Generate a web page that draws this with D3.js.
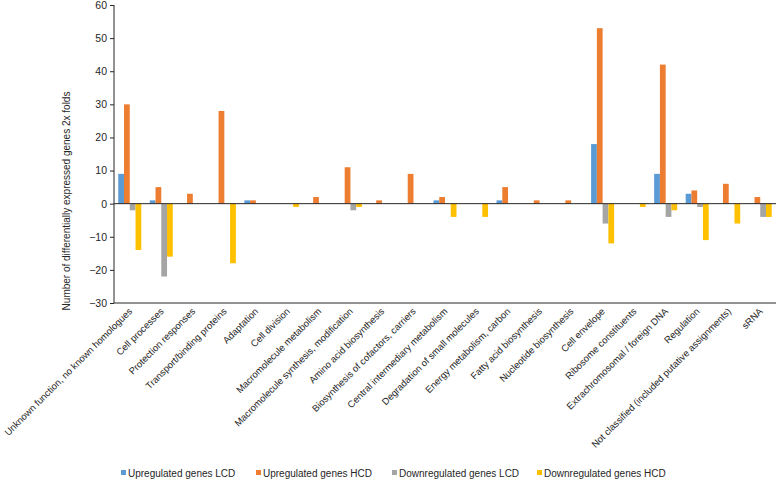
<!DOCTYPE html>
<html>
<head>
<meta charset="utf-8">
<script src="https://cdn.jsdelivr.net/npm/d3@7"></script>
<style>
  body { margin: 0; background: #fff; }
  text { font-family: "Liberation Sans", Arial, sans-serif; fill: #262626; }
</style>
</head>
<body>
<div id="chart"></div>
<script>
// chart data
var categories = [
  "Unknown function, no known homologues",
  "Cell processes",
  "Protection responses",
  "Transport/binding proteins",
  "Adaptation",
  "Cell division",
  "Macromolecule metabolism",
  "Macromolecule synthesis, modification",
  "Amino acid biosynthesis",
  "Biosynthesis of cofactors, carriers",
  "Central intermediary metabolism",
  "Degradation of small molecules",
  "Energy metabolism, carbon",
  "Fatty acid biosynthesis",
  "Nucleotide biosynthesis",
  "Cell envelope",
  "Ribosome constituents",
  "Extrachromosomal / foreign DNA",
  "Regulation",
  "Not classified (included putative assignments)",
  "sRNA"
];
var seriesNames = ["Upregulated genes LCD", "Upregulated genes HCD", "Downregulated genes LCD", "Downregulated genes HCD"];
var upLCD   = [9, 1, 0, 0, 1, 0, 0, 0, 0, 0, 1, 0, 1, 0, 0, 18, 0, 9, 3, 0, 0];
var upHCD   = [30, 5, 3, 28, 1, 0, 2, 11, 1, 9, 2, 0, 5, 1, 1, 53, 0, 42, 4, 6, 2];
var downLCD = [-2, -22, 0, 0, 0, 0, 0, -2, 0, 0, 0, 0, 0, 0, 0, -6, 0, -4, -1, 0, -4];
var downHCD = [-14, -16, 0, -18, 0, -1, 0, -1, 0, 0, -4, -4, 0, 0, 0, -12, -1, -2, -11, -6, -4];
var yTicks = [-30, -20, -10, 0, 10, 20, 30, 40, 50, 60];
var colors = ["#5b9bd5", "#ed7d31", "#a5a5a5", "#ffc000"];

var svgWidth = 778;
var svgHeight = 480;
var margin = { top: 5, right: 2, bottom: 177, left: 114 };
var width = svgWidth - margin.left - margin.right;
var height = svgHeight - margin.top - margin.bottom;

var svg = d3.select("#chart")
  .append("svg")
  .attr("width", svgWidth)
  .attr("height", svgHeight);

var chartGroup = svg.append("g")
  .attr("transform", `translate(${margin.left}, ${margin.top})`);

var allSeries = [upLCD, upHCD, downLCD, downHCD];

// scales
var x0 = d3.scaleBand()
  .domain(categories)
  .range([0, width])
  .paddingInner(0.27)
  .paddingOuter(0.135);

var x1 = d3.scaleBand()
  .domain(d3.range(seriesNames.length))
  .range([0, x0.bandwidth()]);

var y = d3.scaleLinear()
  .domain([-30, 60])
  .range([height, 0]);

// bars
var groups = chartGroup.selectAll(".cat")
  .data(categories)
  .enter()
  .append("g")
  .attr("class", "cat")
  .attr("transform", d => `translate(${x0(d)},0)`);

groups.selectAll("rect")
  .data((d, i) => allSeries.map((s, k) => ({ k: k, v: s[i] })))
  .enter()
  .append("rect")
  .attr("x", d => x1(d.k))
  .attr("width", x1.bandwidth())
  .attr("y", d => y(Math.max(0, d.v)))
  .attr("height", d => Math.abs(y(d.v) - y(0)))
  .attr("fill", d => colors[d.k]);

// y axis
var leftAxis = d3.axisLeft(y)
  .tickValues(yTicks)
  .tickSize(4)
  .tickPadding(3);

var yAxisG = chartGroup.append("g").call(leftAxis);
yAxisG.select(".domain").attr("stroke", "#262626").attr("d", `M0,${y(60)}V${y(-30)}`);
yAxisG.selectAll(".tick line").attr("stroke", "#262626");
yAxisG.selectAll("text")
  .style("font-size", "10.5px")
  .attr("fill", "#262626");

// zero line and bottom line
chartGroup.append("line")
  .attr("x1", 0).attr("x2", width)
  .attr("y1", y(0)).attr("y2", y(0))
  .attr("stroke", "#262626")
  .attr("stroke-width", 1);

chartGroup.append("line")
  .attr("x1", 0).attr("x2", width)
  .attr("y1", y(-30)).attr("y2", y(-30))
  .attr("stroke", "#262626")
  .attr("stroke-width", 1);

// category labels
chartGroup.selectAll(".catLabel")
  .data(categories)
  .enter()
  .append("text")
  .attr("class", "catLabel")
  .attr("transform", d => `translate(${x0(d) + x0.bandwidth() / 2 + 3}, ${y(-30) + 9}) rotate(-45)`)
  .attr("text-anchor", "end")
  .style("font-size", "9.5px")
  .text(d => d);

// y axis label
chartGroup.append("text")
  .attr("transform", `translate(${-44}, ${y(-30) - 102}) rotate(-90)`)
  .attr("text-anchor", "middle")
  .style("font-size", "10px")
  .text("Number of differentially expressed genes 2x folds");

// legend
var legendX = [121, 256, 392, 537];
var legend = svg.selectAll(".legend")
  .data(seriesNames)
  .enter()
  .append("g")
  .attr("class", "legend")
  .attr("transform", (d, i) => `translate(${legendX[i]}, 473)`);

legend.append("rect")
  .attr("x", 0)
  .attr("y", -3)
  .attr("width", 5)
  .attr("height", 5)
  .attr("fill", (d, i) => colors[i]);

legend.append("text")
  .attr("x", 7)
  .attr("y", 3.5)
  .style("font-size", "10px")
  .text(d => d);
</script>
</body>
</html>
